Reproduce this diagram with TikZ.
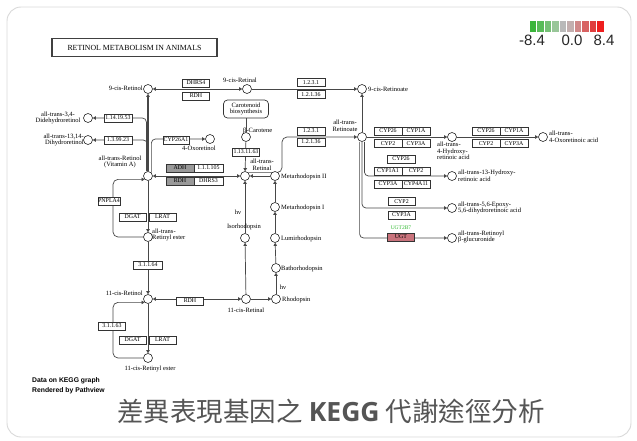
\documentclass[tikz,border=0pt]{standalone}
\usepackage{fontspec}
\setmainfont{Liberation Serif}
\newfontfamily\lsans{Liberation Sans}
\newfontfamily\cjk{Noto Sans CJK TC}
\newfontfamily\osans{Open Sans}
\usetikzlibrary{arrows.meta,backgrounds}
\definecolor{ugtred}{HTML}{C9737C}
\definecolor{ugtgreen}{HTML}{33BB33}
\definecolor{capgray}{HTML}{555555}
\definecolor{cardline}{HTML}{D9D9D9}
\begin{document}
\begin{tikzpicture}[x=1pt,y=-1pt,
  cpd/.style={circle,draw=black!85,fill=white,line width=0.6pt,minimum size=9pt,inner sep=0pt},
  enz/.style={draw=black!80,fill=white,line width=0.7pt,minimum width=27pt,minimum height=8pt,inner sep=0pt,font=\fontsize{5.9}{6}\selectfont},
  gen/.style={enz,fill=black!40},
  lbl/.style={inner sep=0pt,font=\fontsize{6.5}{6.6}\selectfont,align=center},
  conn/.style={draw=black!72,line width=0.7pt},
  arr/.style={-{Triangle[length=3pt,width=3.4pt]}},
  barr/.style={{Triangle[length=3pt,width=3.4pt]}-{Triangle[length=3pt,width=3.4pt]}},
]
\useasboundingbox (0,0) rectangle (637,441);

% ---------- compounds ----------
\node[cpd] (c9ROL) at (148,89) {};
\node[cpd] (c9RAL) at (247,89) {};
\node[cpd] (c9RA) at (362,89) {};
\node[cpd] (cATRA) at (362,137) {};
\node[cpd] (cBC) at (246,137) {};
\node[cpd] (cATRAL) at (245,176) {};
\node[cpd] (cMetaII) at (275,176) {};
\node[cpd] (cMetaI) at (275,207) {};
\node[cpd] (cLumi) at (275,238) {};
\node[cpd] (cBatho) at (276,268) {};
\node[cpd] (cRho) at (276,299) {};
\node[cpd] (cIso) at (245,238) {};
\node[cpd] (c11RAL) at (246,299) {};
\node[cpd] (c11ROL) at (148,299) {};
\node[cpd] (c11RE) at (148,358) {};
\node[cpd] (cATRE) at (148,237) {};
\node[cpd] (cATROL) at (148,176) {};
\node[cpd] (cDDR) at (88,118) {};
\node[cpd] (cDHR) at (88,140) {};
\node[cpd] (c4OXOL) at (210,139) {};
\node[cpd] (cHRA) at (452,137) {};
\node[cpd] (cORA) at (543,137) {};
\node[cpd] (c13) at (452,176) {};
\node[cpd] (cEpo) at (452,208) {};
\node[cpd] (cGlu) at (452,238) {};

% ---------- background: card and connectors ----------
\begin{scope}[on background layer]
  \draw[cardline,fill=white,line width=0.9pt,rounded corners=14pt] (7,7) rectangle (631,437);
  \node[draw=black!75,line width=1.1pt,minimum width=165pt,minimum height=18pt,inner sep=0pt,fill=white,
        font=\fontsize{7.8}{8}\selectfont] (title) at (134.5,47.5) {RETINOL METABOLISM IN ANIMALS};

  \draw[conn,barr] (c9RAL) -- (c9ROL);
  \draw[conn,arr] (c9RAL) -- (c9RA);
  \draw[conn,arr] (cATRA) -- (c9RA);
  \draw[conn,arr,line width=2.2pt] (cATROL) -- (c9ROL);
  \draw[conn,arr,rounded corners=4pt] ([xshift=-1.6pt]cATROL.north) |- (cDDR);
  \draw[conn,arr,rounded corners=4pt] ([xshift=-0.8pt]cATROL.north) |- (cDHR);
  \draw[conn,arr,rounded corners=4pt] (cATROL.north east) |- (c4OXOL);
  \draw[conn,barr] (cATRAL) -- (cATROL);
  \draw[conn,arr,rounded corners=5pt] (cATRE.west) -| (113,205) |- (cATROL.south west);
  \draw[conn,arr] (cATROL) -- (cATRE);
  \draw[conn,arr] (cATRE) -- (c11ROL);
  \draw[conn,barr] (c11RAL) -- (c11ROL);
  \draw[conn,arr] (c11ROL) -- (c11RE);
  \draw[conn,arr,rounded corners=5pt] (c11RE.west) -| (113,330) |- (c11ROL.south west);
  \draw[conn,arr] (c11RAL) -- (cRho);
  \draw[conn,arr] (cRho) -- (cBatho);
  \draw[conn,arr] (cBatho) -- (cLumi);
  \draw[conn,arr] (cLumi) -- (cMetaI);
  \draw[conn,arr] (cMetaI) -- (cMetaII);
  \draw[conn,arr] (cMetaII) -- (cATRAL);
  \draw[conn,arr] (c11RAL) -- (cIso);
  \draw[conn,arr] (cIso) -- (cATRAL);
  \draw[conn,arr] (cBC) -- (cATRAL);
  \draw[conn,arr,rounded corners=5pt] (cATRAL.north east) -| (282,150) |- (cATRA);
  \draw[conn,arr] (cATRA) -- (cHRA);
  \draw[conn,arr] (cHRA) -- (cORA);
  \draw[conn,arr,rounded corners=4pt] ([xshift=2.4pt]cATRA.south) |- (c13);
  \draw[conn,arr,rounded corners=4pt] (cATRA.south) |- (cEpo);
  \draw[conn,arr,rounded corners=4pt] ([xshift=-2.4pt]cATRA.south) |- (cGlu);
\end{scope}

% ---------- carotenoid map link ----------
\node[draw=black!80,fill=white,line width=0.7pt,rounded corners=4pt,minimum width=45pt,minimum height=18pt,
      inner sep=0pt,lbl] (carot) at (246,109) {Carotenoid\\biosynthesis};
\draw[conn] (carot) -- (cBC);

% ---------- compound labels ----------
\node[lbl,anchor=east] (l9ROL) at (143,88) {9-cis-Retinol};
\node[lbl] (l9RAL) at (240,80) {9-cis-Retinal};
\node[lbl,anchor=west] (l9RA) at (368,89) {9-cis-Retinoate};
\node[lbl] (lATRA) at (345,126) {all-trans-\\Retinoate};
\node[lbl,anchor=west] (lBC) at (243,131) {β-Carotene};
\node[lbl] (lATRAL) at (262,165) {all-trans-\\Retinal};
\node[lbl,anchor=west] (lMetaII) at (281,177) {Metarhodopsin II};
\node[lbl,anchor=west] (lMetaI) at (281,208) {Metarhodopsin I};
\node[lbl,anchor=west] (lLumi) at (281,239) {Lumirhodopsin};
\node[lbl,anchor=west] (lBatho) at (281,269) {Bathorhodopsin};
\node[lbl,anchor=west] (lRho) at (282,300) {Rhodopsin};
\node[lbl] (lIso) at (244,227) {Isorhodopsin};
\node[lbl] (lhv1) at (238,212) {hν};
\node[lbl] (lhv2) at (283,287) {hν};
\node[lbl] (l11RAL) at (246,310) {11-cis-Retinal};
\node[lbl,anchor=east] (l11ROL) at (143,293) {11-cis-Retinol};
\node[lbl] (l11RE) at (150,369) {11-cis-Retinyl ester};
\node[lbl,anchor=west,align=left] (lATRE) at (152,235) {all-trans-\\Retinyl ester};
\node[lbl] (lATROL) at (120,162) {all-trans-Retinol\\(Vitamin A)};
\node[lbl] (lDDR) at (58,118) {all-trans-3,4-\\Didehydroretinol};
\node[lbl,anchor=east,align=right] (lDHR) at (84,140) {all-trans-13,14-\\Dihydroretinol};
\node[lbl] (l4OXOL) at (199,148) {4-Oxoretinol};
\node[lbl,anchor=north west,align=left] (lHRA) at (437,142) {all-trans-\\4-Hydroxy-\\retinoic acid};
\node[lbl,anchor=west,align=left] (lORA) at (549,137) {all-trans-\\4-Oxoretinoic acid};
\node[lbl,anchor=west,align=left] (l13) at (458,176) {all-trans-13-Hydroxy-\\retinoic acid};
\node[lbl,anchor=west,align=left] (lEpo) at (458,208) {all-trans-5,6-Epoxy-\\5,6-dihydroretinoic acid};
\node[lbl,anchor=west,align=left] (lGlu) at (458,237) {all-trans-Retinoyl\\β-glucuronide};

% ---------- enzymes ----------
\node[enz] (eDHRS4) at (196,83) {DHRS4};
\node[enz] (eRDHa) at (196,96) {RDH};
\node[enz,minimum width=28pt] (e1231a) at (311,82.5) {1.2.3.1};
\node[enz,minimum width=28pt] (e12136a) at (311,94.5) {1.2.1.36};
\node[enz,minimum width=28pt] (e1231b) at (311,131) {1.2.3.1};
\node[enz,minimum width=28pt] (e12136b) at (311,142) {1.2.1.36};
\node[enz] (e1131163) at (246,152) {1.13.11.63};
\node[enz,minimum width=28pt] (e1141953) at (118,118) {1.14.19.53};
\node[enz,minimum width=28pt] (e139923) at (118,140) {1.3.99.23};
\node[enz,minimum width=26pt] (eCYP26A1) at (176,140) {CYP26A1};
\node[gen,minimum width=28pt] (eADH) at (180,168) {ADH};
\node[enz,minimum width=29pt] (e111105) at (208.5,168) {1.1.1.105};
\node[gen,minimum width=28pt] (eRDHb) at (180,181) {RDH};
\node[enz,minimum width=29pt] (eDHRS3) at (208.5,181) {DHRS3};
\node[enz,minimum width=22pt] (ePNPLA4) at (109,201) {PNPLA4};
\node[enz] (eDGATa) at (132.5,217) {DGAT};
\node[enz] (eLRATa) at (162.5,217) {LRAT};
\node[enz,minimum width=29pt] (e31164) at (148,265) {3.1.1.64};
\node[enz] (eRDHc) at (190,301) {RDH};
\node[enz] (e31163) at (112,326) {3.1.1.63};
\node[enz] (eDGATb) at (132.5,340) {DGAT};
\node[enz] (eLRATb) at (162.5,340) {LRAT};
% CYP group A
\node[enz,minimum width=28pt] (eA1) at (388,131) {CYP26};
\node[enz,minimum width=28pt] (eA2) at (416,131) {CYP1A};
\node[enz,minimum width=28pt] (eA3) at (388,143.5) {CYP2};
\node[enz,minimum width=28pt] (eA4) at (416,143.5) {CYP3A};
% CYP group B
\node[enz,minimum width=28pt] (eB1) at (486,131) {CYP26};
\node[enz,minimum width=28pt] (eB2) at (514,131) {CYP1A};
\node[enz,minimum width=28pt] (eB3) at (486,143.5) {CYP2};
\node[enz,minimum width=28pt] (eB4) at (514,143.5) {CYP3A};
% CYP group C
\node[enz,minimum width=28pt] (eC1) at (401,159) {CYP26};
\node[enz,minimum width=28pt] (eC2) at (388,171) {CYP1A1};
\node[enz,minimum width=28pt] (eC3) at (416,171) {CYP2};
\node[enz,minimum width=28pt] (eC4) at (388,184) {CYP3A};
\node[enz,minimum width=28pt] (eC5) at (416,184) {CYP4A11};
% CYP group D
\node[enz] (eD1) at (401.5,201.5) {CYP2};
\node[enz] (eD2) at (401.5,215) {CYP3A};
% UGT
\node[enz,fill=ugtred,draw=black!80] (eUGT) at (401,237) {UGT};
\node[inner sep=0pt,font=\fontsize{5.5}{6}\selectfont,text=ugtgreen] (lUGT2B7) at (401,228) {UGT2B7};

% ---------- legend ----------
\foreach \c [count=\i from 0] in {3BB53B,58BB58,76C076,99C699,B9B9B9,C3AFAF,D08888,D86262,E03E3E,EE1E1E}{
  \definecolor{segc}{HTML}{\c}
  \fill[segc] (529+\i*7.5,21) rectangle ++(7.5,11);
  \draw[white,line width=0.5pt] (529+\i*7.5,21) -- ++(0,11);
}
\node[inner sep=0pt,font=\lsans\fontsize{15}{15}\selectfont,text=black!85] (lgA) at (532,40) {-8.4};
\node[inner sep=0pt,font=\lsans\fontsize{15}{15}\selectfont,text=black!85] (lgB) at (572,40) {0.0};
\node[inner sep=0pt,font=\lsans\fontsize{15}{15}\selectfont,text=black!85] (lgC) at (604,40) {8.4};

% ---------- footer ----------
\node[anchor=west,inner sep=0pt,align=left,font=\lsans\bfseries\fontsize{6.8}{9.6}\selectfont] (foot) at (32,386)
  {Data on KEGG graph\\Rendered by Pathview};
\node[inner sep=0pt,text=capgray,font=\cjk\fontsize{26.5}{27}\selectfont] (caption) at (331,411)
  {差異表現基因之 {\osans\bfseries KEGG} 代謝途徑分析};
\end{tikzpicture}
\end{document}
